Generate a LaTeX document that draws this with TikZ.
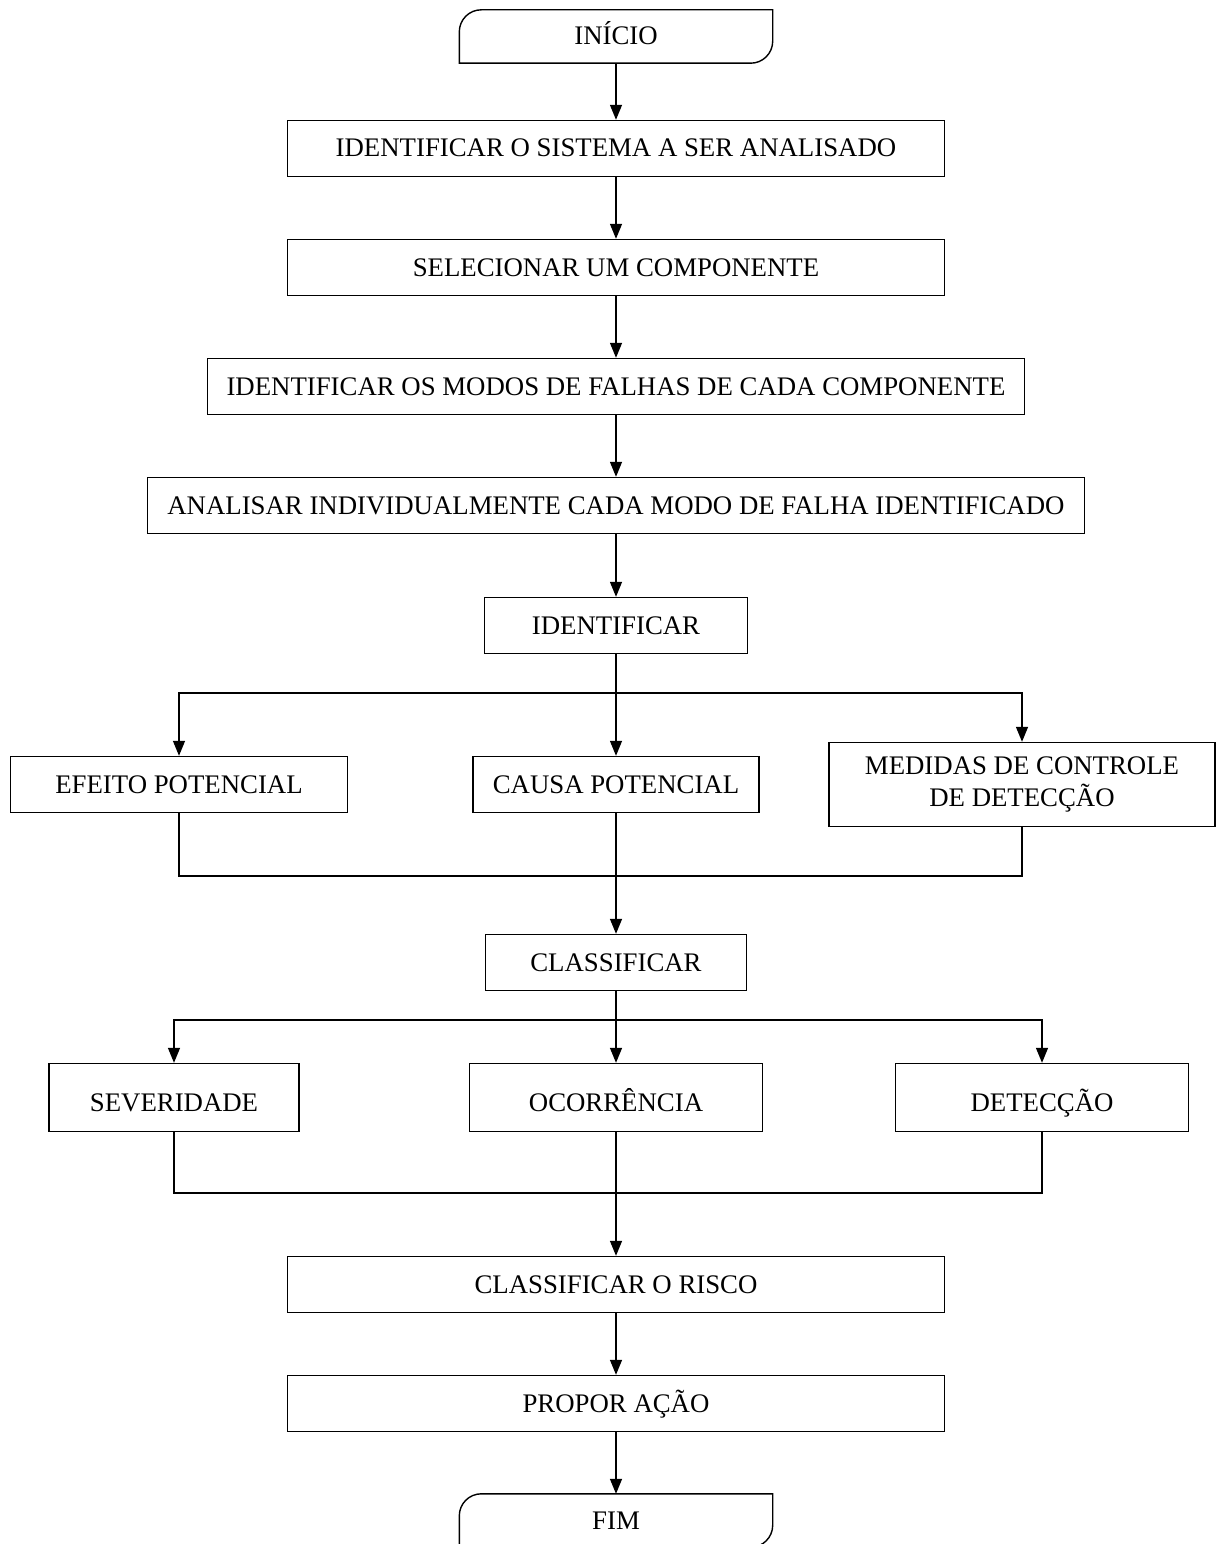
\documentclass[tikz,border=0pt]{standalone}
\usepackage{fontspec}
\setmainfont{Liberation Serif}
\usepackage{tikz}
\usetikzlibrary{arrows.meta, positioning, calc}
\tikzstyle{etapa} = [
    rectangle,
    draw=black,
    line width=1.4pt,
    minimum height=56pt,
    inner sep=0pt,
    text height=20pt,
    text depth=3pt,
    text centered,
    font=\fontsize{26.8}{32}\selectfont
]
\tikzstyle{terminal} = [
    rectangle,
    minimum width=313pt,
    minimum height=53pt,
    inner sep=0pt,
    text height=20pt,
    text depth=3pt,
    font=\fontsize{26.8}{32}\selectfont
]
\tikzstyle{linha} = [
    line width=1.4pt,
    color=black
]
\tikzstyle{seta} = [
    linha,
    -{Triangle[length=15pt,width=12pt]}
]
% contorno do terminal: cantos arredondados so no alto a esquerda e embaixo a direita
\newcommand{\contorno}[1]{%
  \draw[linha] (#1.south west) -- ([yshift=-22pt]#1.north west)
    arc[start angle=180, end angle=90, radius=22pt] -- (#1.north east)
    -- ([yshift=22pt]#1.south east)
    arc[start angle=0, end angle=-90, radius=22pt] -- cycle;}

\begin{document}
\begin{tikzpicture}[x=1pt, y=1pt, node distance=119pt]
    \useasboundingbox (0,0) rectangle (1217,-1544);

    \node[terminal] (inicio) at (616,-36.5) {INÍCIO};
    \contorno{inicio}
    \node[etapa, minimum width=657pt, below of=inicio, yshift=7pt] (sistema) {IDENTIFICAR O SISTEMA A SER ANALISADO};
    \node[etapa, minimum width=657pt, below of=sistema] (componente) {SELECIONAR UM COMPONENTE};
    \node[etapa, minimum width=817pt, below of=componente] (modos) {IDENTIFICAR OS MODOS DE FALHAS DE CADA COMPONENTE};
    \node[etapa, minimum width=937pt, below of=modos] (analisar) {ANALISAR INDIVIDUALMENTE CADA MODO DE FALHA IDENTIFICADO};
    \node[etapa, minimum width=263pt, below of=analisar, yshift=-1pt] (identificar) {IDENTIFICAR};

    \node[etapa, minimum width=286pt, below of=identificar, yshift=-40pt] (causa) {CAUSA POTENCIAL};
    \node[etapa, minimum width=337pt, left of=causa, xshift=-318pt] (efeito) {EFEITO POTENCIAL};
    \node[etapa, minimum width=386pt, minimum height=84pt, text height=, text depth=, right of=causa, xshift=287pt, align=center] (medidas) {MEDIDAS DE CONTROLE\\DE DETECÇÃO};

    \node[etapa, minimum width=261pt, below of=causa, yshift=-59pt] (classificar) {CLASSIFICAR};

    \node[etapa, minimum width=293pt, minimum height=68pt, text height=30pt, below of=classificar, yshift=-16pt] (ocorrencia) {OCORRÊNCIA};
    \node[etapa, minimum width=250pt, minimum height=68pt, text height=30pt, left of=ocorrencia, xshift=-323pt] (severidade) {SEVERIDADE};
    \node[etapa, minimum width=293pt, minimum height=68pt, text height=30pt, right of=ocorrencia, xshift=307pt] (deteccao) {DETECÇÃO};

    \node[etapa, minimum width=657pt, below of=ocorrencia, yshift=-68pt] (risco) {CLASSIFICAR O RISCO};
    \node[etapa, minimum width=657pt, below of=risco] (propor) {PROPOR AÇÃO};
    \node[terminal, below of=propor, yshift=2pt] (fim) {FIM};
    \contorno{fim}

    \coordinate (ramo1) at (616,-693);
    \coordinate (junta1) at (616,-876);
    \coordinate (ramo2) at (616,-1020);
    \coordinate (junta2) at (616,-1193);

    \draw[seta] (inicio) -- (sistema);
    \draw[seta] (sistema) -- (componente);
    \draw[seta] (componente) -- (modos);
    \draw[seta] (modos) -- (analisar);
    \draw[seta] (analisar) -- (identificar);

    \draw[seta] (identificar) -- (causa);
    \draw[seta] (ramo1) -| (efeito.north);
    \draw[seta] (ramo1) -| (medidas.north);
    \draw[linha] (efeito.south) |- (junta1) -| (medidas.south);
    \draw[seta] (causa) -- (classificar);

    \draw[seta] (classificar) -- (ocorrencia);
    \draw[seta] (ramo2) -| (severidade.north);
    \draw[seta] (ramo2) -| (deteccao.north);
    \draw[linha] (severidade.south) |- (junta2) -| (deteccao.south);
    \draw[linha] (ocorrencia.south) -- (junta2);
    \draw[seta] (junta2) -- (risco);

    \draw[seta] (risco) -- (propor);
    \draw[seta] (propor) -- (fim);
\end{tikzpicture}
\end{document}
